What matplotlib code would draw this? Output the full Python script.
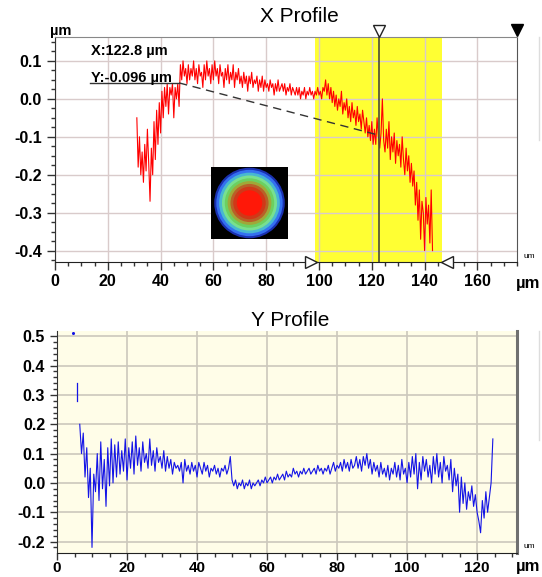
import numpy as np
import matplotlib
matplotlib.use("Agg")
import matplotlib.pyplot as plt
from matplotlib.patches import Circle
from matplotlib.ticker import MultipleLocator, FormatStrFormatter

plt.rcParams['font.family'] = ['Liberation Sans', 'DejaVu Sans']

# ---------------- data ----------------
x_profile_start = 31.0
x_profile_step = 0.5
x_profile_values = [
    -0.05, -0.18, -0.10, -0.20, -0.14, -0.22, -0.12, -0.19, -0.08, -0.17,
    -0.27, -0.13, -0.20, -0.06, -0.16, -0.03, -0.12, -0.01, -0.09, 0.02,
    -0.05, 0.03, -0.02, 0.04, -0.04, 0.03, 0.01, 0.04, -0.05, 0.03,
    0.00, 0.04, -0.02, 0.09, 0.05, 0.10, 0.06, 0.08, 0.04, 0.09,
    0.05, 0.08, 0.06, 0.10, 0.05, 0.08, 0.04, 0.09, 0.06, 0.07,
    0.03, 0.09, 0.05, 0.10, 0.06, 0.08, 0.04, 0.09, 0.05, 0.10,
    0.06, 0.08, 0.04, 0.09, 0.06, 0.07, 0.03, 0.08, 0.05, 0.09,
    0.04, 0.07, 0.05, 0.09, 0.03, 0.07, 0.05, 0.08, 0.04, 0.06,
    0.03, 0.07, 0.04, 0.06, 0.02, 0.06, 0.04, 0.07, 0.03, 0.05,
    0.04, 0.06, 0.02, 0.05, 0.03, 0.06, 0.02, 0.05, 0.03, 0.04,
    0.02, 0.05, 0.03, 0.04, 0.01, 0.04, 0.02, 0.05, 0.02, 0.03,
    0.04, 0.02, 0.04, 0.01, 0.03, 0.02, 0.04, 0.01, 0.03, 0.02,
    0.01, 0.03, 0.01, 0.03, 0.00, 0.02, 0.01, 0.03, 0.00, 0.02,
    0.01, 0.03, 0.01, 0.02, 0.00, 0.02, 0.01, 0.03, 0.01, 0.02,
    0.00, 0.03, 0.02, 0.05, 0.01, 0.04, 0.00, 0.03, -0.01, 0.02,
    -0.02, 0.01, -0.03, 0.00, -0.02, 0.02, -0.04, -0.01, -0.03, 0.00,
    -0.05, -0.02, -0.06, -0.01, -0.05, -0.03, -0.07, -0.02, -0.06, -0.04,
    -0.08, -0.03, -0.06, -0.09, -0.05, -0.10, -0.07, -0.11, -0.06, -0.12,
    -0.08, -0.12, -0.05, -0.10, -0.13, -0.09, 0.00, -0.11, -0.14, -0.08,
    -0.13, -0.06, -0.16, -0.10, -0.14, -0.09, -0.17, -0.11, -0.15, -0.12,
    -0.18, -0.10, -0.16, -0.20, -0.13, -0.19, -0.15, -0.22, -0.17, -0.23,
    -0.19, -0.28, -0.22, -0.32, -0.24, -0.37, -0.27, -0.30, -0.40, -0.26,
    -0.33, -0.28, -0.38, -0.24, -0.40,
]

y_profile_start = 6.5
y_profile_step = 0.5
y_profile_values = [
    0.20, 0.10, 0.17, 0.02, 0.12, -0.05, 0.05, -0.22, 0.03, -0.03,
    0.10, -0.06, 0.14, -0.02, 0.08, -0.08, 0.12, -0.01, 0.15, 0.00,
    0.13, 0.02, 0.14, 0.03, 0.11, 0.04, 0.15, 0.01, 0.12, 0.05,
    0.14, 0.03, 0.16, 0.06, 0.12, 0.04, 0.14, 0.07, 0.10, 0.05,
    0.15, 0.06, 0.11, 0.04, 0.12, 0.07, 0.09, 0.05, 0.11, 0.04,
    0.09, 0.05, 0.08, 0.03, 0.07, 0.05, 0.06, 0.04, 0.07, 0.00,
    0.08, 0.04, 0.06, 0.03, 0.07, 0.04, 0.06, 0.02, 0.07, 0.05,
    0.03, 0.07, 0.04, 0.06, 0.02, 0.05, 0.04, 0.06, 0.03, 0.05,
    0.02, 0.05, 0.04, 0.06, 0.03, 0.05, 0.09, 0.01, -0.01, 0.01,
    -0.02, 0.00, -0.01, 0.01, -0.02, 0.00, -0.01, 0.01, -0.02, 0.00,
    -0.01, 0.00, 0.01, -0.01, 0.01, 0.00, 0.02, 0.00, 0.01, 0.02,
    0.00, 0.02, 0.01, 0.03, 0.01, 0.02, 0.03, 0.01, 0.04, 0.02,
    0.03, 0.02, 0.05, 0.03, 0.04, 0.02, 0.04, 0.03, 0.05, 0.03,
    0.04, 0.05, 0.03, 0.04, 0.05, 0.03, 0.06, 0.04, 0.05, 0.03,
    0.05, 0.04, 0.06, 0.03, 0.05, 0.07, 0.04, 0.06, 0.05, 0.07,
    0.04, 0.08, 0.05, 0.07, 0.04, 0.08, 0.05, 0.06, 0.09, 0.05,
    0.08, 0.04, 0.09, 0.06, 0.10, 0.05, 0.08, 0.03, 0.07, 0.04,
    0.06, 0.02, 0.07, 0.03, 0.05, 0.02, 0.06, 0.01, 0.05, 0.03,
    0.07, 0.02, 0.06, 0.01, 0.08, 0.03, 0.05, 0.00, 0.07, 0.02,
    0.09, 0.03, 0.10, -0.02, 0.07, 0.01, 0.09, 0.04, 0.08, 0.02,
    0.06, 0.00, 0.09, 0.03, 0.10, 0.02, 0.07, 0.00, 0.09, 0.04,
    0.06, 0.01, 0.08, -0.03, 0.05, -0.01, 0.03, -0.10, 0.02, -0.07,
    0.00, -0.09, -0.03, -0.06, -0.01, -0.08, -0.04, -0.10, -0.13, -0.17,
    -0.06, -0.12, -0.03, -0.10, -0.05, 0.00, 0.15,
]
y_outlier_dot = (4.6, 0.51)
y_outlier_seg_x = [5.6, 5.6]
y_outlier_seg_y = [0.28, 0.34]

cursor_x = 122.8
cursor_y = -0.096
band_range = (98.5, 146.6)
marker_left = 96.8
marker_right = 148.3
label_anchor = (13.3, 0.042)
label_break_x = 47.0

x_xlim = (0, 175)
x_ylim = (-0.43, 0.163)
y_xlim = (0, 131.4)
y_ylim = (-0.239, 0.518)

x_prof_x = x_profile_start + x_profile_step * np.arange(len(x_profile_values))
y_prof_x = y_profile_start + y_profile_step * np.arange(len(y_profile_values))

# ---------------- figure ----------------
W, H = 542, 577
fig = plt.figure(figsize=(W / 100, H / 100), dpi=100)

def fr(x0, y0, x1, y1):
    return [x0 / W, 1 - y1 / H, (x1 - x0) / W, (y1 - y0) / H]

# ---- top: X Profile ----
ax1 = fig.add_axes(fr(55, 37, 517, 262))
ax1.set_xlim(*x_xlim)
ax1.set_ylim(*x_ylim)
ax1.axvspan(*band_range, color='#FFFF33', zorder=0.5, lw=0)
ax1.xaxis.set_major_locator(MultipleLocator(20))
ax1.xaxis.set_minor_locator(MultipleLocator(5))
ax1.yaxis.set_major_locator(MultipleLocator(0.1))
ax1.yaxis.set_minor_locator(MultipleLocator(0.025))
ax1.yaxis.set_major_formatter(FormatStrFormatter('%.1f'))
ax1.grid(True, which='major', color='#D9CBCB', lw=1.0, zorder=0.8)
ax1.set_axisbelow(True)
ax1.plot(x_prof_x, x_profile_values, color='#FF0000', lw=0.8, zorder=3)
ax1.axvline(cursor_x, color='#4A4A3A', lw=1.2, zorder=4)
ax1.plot([label_anchor[0], label_break_x], [label_anchor[1], label_anchor[1]],
         color='#333333', lw=1.0, zorder=4)
ax1.plot([label_break_x, cursor_x], [label_anchor[1], cursor_y],
         color='#333333', lw=1.0, ls=(0, (6, 4)), zorder=4)
ax1.text(label_anchor[0] + 0.3, 0.127, 'X:122.8 µm', fontsize=10.5, fontweight='bold',
         va='center', ha='left', zorder=5)
ax1.text(label_anchor[0] + 0.3, 0.056, 'Y:-0.096 µm', fontsize=10.5, fontweight='bold',
         va='center', ha='left', zorder=5)
ax1.spines['top'].set_color('#888888')
ax1.spines['right'].set_color('#555555')
ax1.spines['left'].set_color('#333333')
ax1.spines['bottom'].set_color('#222222')
ax1.tick_params(which='major', direction='out', length=6, width=1, color='#333333')
ax1.tick_params(which='minor', direction='out', length=3, width=1, color='#333333')
ax1.tick_params(axis='x', pad=3)
for lab in ax1.get_xticklabels() + ax1.get_yticklabels():
    lab.set_fontsize(11.5)
    lab.set_fontweight('bold')
# markers
trans_top = ax1.get_xaxis_transform()
ax1.plot([cursor_x], [1.025], marker='v', ms=8, mfc='white', mec='#222222',
         mew=1, transform=trans_top, clip_on=False, zorder=6)
ax1.plot([x_xlim[1]], [1.03], marker='v', ms=8, mfc='black', mec='black',
         transform=trans_top, clip_on=False, zorder=6)
ax1.plot([marker_left], [0.0], marker='>', ms=8, mfc='white', mec='#222222',
         mew=1, transform=trans_top, clip_on=False, zorder=6)
ax1.plot([marker_right], [0.0], marker='<', ms=8, mfc='white', mec='#222222',
         mew=1, transform=trans_top, clip_on=False, zorder=6)

fig.text(299 / W, 1 - 17 / H, 'X Profile', fontsize=15, ha='center', va='center')
fig.text(50 / W, 1 - 31 / H, 'µm', fontsize=10.5, fontweight='bold', ha='left', va='center')
fig.text(523 / W, 1 - 256 / H, 'um', fontsize=6, ha='left', va='center')
fig.text(516 / W, 1 - 283 / H, 'µm', fontsize=12, fontweight='bold', ha='left', va='center')

# inset image (concentric rings)
axi = fig.add_axes(fr(211, 167, 288, 239))
axi.set_facecolor('black')
axi.set_xlim(-77 / 72, 77 / 72)
axi.set_ylim(-1, 1)
axi.set_xticks([]); axi.set_yticks([])
for s in axi.spines.values():
    s.set_visible(False)
ring_r = [1.0, 0.94, 0.86, 0.78, 0.70, 0.62, 0.54, 0.46, 0.36]
ring_c = ['#1A30B0', '#3470F0', '#48B8D0', '#78E090', '#6CD060', '#A0A838',
          '#B86028', '#D03818', '#FF1808']
for r, c in zip(ring_r, ring_c):
    axi.add_patch(Circle((0, 0), r * 0.98, color=c, lw=0))

# ---- bottom: Y Profile ----
ax2 = fig.add_axes(fr(57, 331, 517, 553))
ax2.set_facecolor('#FFFDE8')
ax2.set_xlim(*y_xlim)
ax2.set_ylim(*y_ylim)
ax2.xaxis.set_major_locator(MultipleLocator(20))
ax2.xaxis.set_minor_locator(MultipleLocator(5))
ax2.yaxis.set_major_locator(MultipleLocator(0.1))
ax2.yaxis.set_minor_locator(MultipleLocator(0.02))
ax2.yaxis.set_major_formatter(FormatStrFormatter('%.1f'))
ax2.grid(True, which='major', color='#CCC8BC', lw=1.2)
ax2.set_axisbelow(True)
ax2.plot(y_prof_x, y_profile_values, color='#1414E6', lw=0.8, zorder=3)
ax2.plot(y_outlier_seg_x, y_outlier_seg_y, color='#1414E6', lw=0.9, zorder=3)
ax2.plot([y_outlier_dot[0]], [y_outlier_dot[1]], marker='o', ms=1.2, color='#1414E6', zorder=3)
ax2.spines['top'].set_visible(False)
ax2.spines['right'].set_color('#707070')
ax2.spines['right'].set_linewidth(2.2)
ax2.spines['left'].set_color('#333333')
ax2.spines['bottom'].set_color('#222222')
ax2.tick_params(which='major', direction='out', length=5, width=1, color='#333333')
ax2.tick_params(which='minor', direction='out', length=3, width=1, color='#333333')
ax2.tick_params(axis='x', pad=1)
for lab in ax2.get_xticklabels() + ax2.get_yticklabels():
    lab.set_fontsize(11.5)
    lab.set_fontweight('bold')
for lab in ax2.get_xticklabels():
    lab.set_fontsize(11)

fig.text(290 / W, 1 - 321 / H, 'Y Profile', fontsize=15, ha='center', va='center')
fig.text(523 / W, 1 - 547 / H, 'um', fontsize=6, ha='left', va='center')
fig.text(516 / W, 1 - 566 / H, 'µm', fontsize=12, fontweight='bold', ha='left', va='center')

# faint right-edge panel borders
fig.add_artist(plt.Line2D([539 / W, 539 / W], [1 - 37 / H, 1 - 140 / H],
                          color='#DDDDDD', lw=1, transform=fig.transFigure))
fig.add_artist(plt.Line2D([539 / W, 539 / W], [1 - 331 / H, 1 - 440 / H],
                          color='#DDDDDD', lw=1, transform=fig.transFigure))

fig.savefig('out.png', dpi=100)
